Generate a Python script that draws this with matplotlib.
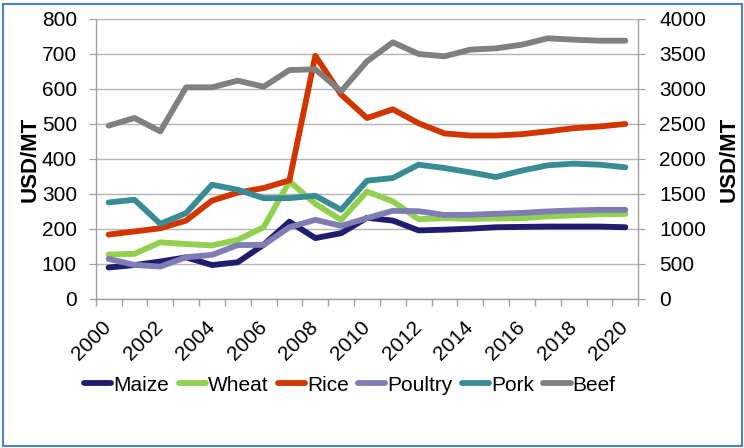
import matplotlib
matplotlib.use("Agg")
import matplotlib.pyplot as plt
from matplotlib.patches import Rectangle

plt.rcParams["font.family"] = ["Liberation Sans", "DejaVu Sans"]

years = list(range(2000, 2021))

# grains, left axis (USD/MT)
maize = [90, 97, 107, 119, 97, 105, 155, 221, 174, 188, 232, 224, 196, 198, 201, 205, 206, 207, 207, 207, 205]
wheat = [127, 129, 162, 157, 153, 169, 205, 336, 272, 226, 307, 279, 228, 231, 229, 230, 231, 236, 239, 242, 243]
rice = [184, 193, 202, 224, 281, 304, 317, 339, 695, 584, 517, 542, 502, 473, 467, 467, 471, 479, 488, 493, 500]

# meats, right axis (USD/MT)
poultry = [573, 487, 463, 597, 630, 770, 773, 1026, 1131, 1045, 1155, 1260, 1254, 1200, 1203, 1217, 1230, 1251, 1265, 1274, 1274]
pork = [1379, 1418, 1074, 1227, 1632, 1560, 1441, 1441, 1475, 1274, 1690, 1728, 1919, 1871, 1809, 1742, 1835, 1910, 1933, 1919, 1881]
beef = [2476, 2586, 2395, 3024, 3024, 3119, 3033, 3271, 3281, 2967, 3395, 3667, 3500, 3467, 3562, 3581, 3633, 3724, 3705, 3690, 3690]

colors = {
    "Maize": "#201D6E",
    "Wheat": "#92D050",
    "Rice": "#D23600",
    "Poultry": "#7F7DB4",
    "Pork": "#3A8C94",
    "Beef": "#808080",
}

fig = plt.figure(figsize=(7.44, 4.48), dpi=100)
ax = fig.add_axes([0.1286, 0.3326, 0.7293, 0.625])
ax2 = ax.twinx()

x = list(range(len(years)))
lw = 4.2
kw = dict(lw=lw, solid_capstyle="round", solid_joinstyle="round")

h_maize, = ax.plot(x, maize, color=colors["Maize"], zorder=3, **kw)
h_wheat, = ax.plot(x, wheat, color=colors["Wheat"], zorder=3, **kw)
h_rice, = ax.plot(x, rice, color=colors["Rice"], zorder=3, **kw)
h_poultry, = ax2.plot(x, poultry, color=colors["Poultry"], zorder=3, **kw)
h_pork, = ax2.plot(x, pork, color=colors["Pork"], zorder=3, **kw)
h_beef, = ax2.plot(x, beef, color=colors["Beef"], zorder=3, **kw)

ax.set_xlim(-0.5, len(years) - 0.5)
ax.set_ylim(0, 800)
ax.set_yticks(range(0, 801, 100))
ax2.set_ylim(0, 4000)
ax2.set_yticks(range(0, 4001, 500))

ax.yaxis.grid(True, color="#B4B4B4", lw=1.0)
ax.set_axisbelow(True)

for a in (ax, ax2):
    a.spines["top"].set_visible(False)
    for s in ("left", "right", "bottom"):
        a.spines[s].set_color("#A0A0A0")
        a.spines[s].set_linewidth(1.0)
ax2.spines["left"].set_visible(False)
ax2.spines["bottom"].set_visible(False)
ax.spines["right"].set_visible(False)

# category axis: tick marks between categories, labels every two years
ax.set_xticks([i - 0.5 for i in range(len(years) + 1)], minor=True)
ax.set_xticks(x[::2])
ax.set_xticklabels([str(y) for y in years[::2]], rotation=45, ha="right",
                   va="center", rotation_mode="anchor", fontsize=15)
ax.tick_params(axis="x", which="major", length=0, pad=18)
ax.tick_params(axis="x", which="minor", length=5, color="#A0A0A0", width=1)
ax.tick_params(axis="y", labelsize=15, length=5, color="#A0A0A0", pad=8.5)
ax2.tick_params(axis="y", labelsize=15, length=5, color="#A0A0A0", pad=10)

ax.set_ylabel("USD/MT", fontsize=16, fontweight="bold", labelpad=1)
ax2.set_ylabel("USD/MT", fontsize=16, fontweight="bold", rotation=90, labelpad=9)

fig.legend([h_maize, h_wheat, h_rice, h_poultry, h_pork, h_beef],
           ["Maize", "Wheat", "Rice", "Poultry", "Pork", "Beef"],
           loc="center", bbox_to_anchor=(350 / 744, 63 / 448), ncol=6,
           frameon=False, fontsize=15, handlelength=1.3, handletextpad=0.1,
           columnspacing=0.45)

fig.patches.append(Rectangle((3 / 744, 2 / 448), 739 / 744, 442 / 448,
                             transform=fig.transFigure, fill=False,
                             edgecolor="#4F81BD", lw=1.5))

fig.savefig("out.png", dpi=100)
